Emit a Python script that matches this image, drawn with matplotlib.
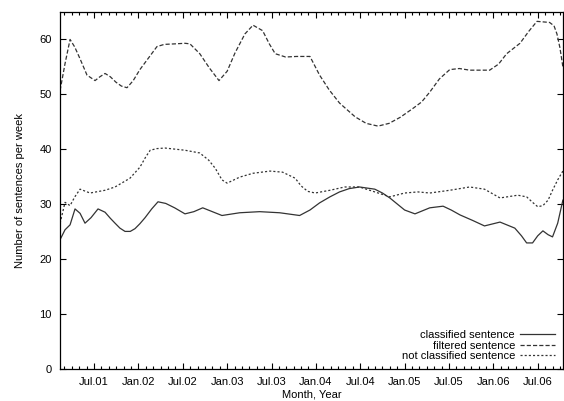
import matplotlib
matplotlib.use("Agg")
import matplotlib.pyplot as plt
from matplotlib.ticker import MultipleLocator

plt.rcParams['font.family'] = ['Liberation Sans', 'DejaVu Sans']
plt.rcParams['lines.scale_dashes'] = False

# x = months since Jan 2001
classified_x = [1.41, 2.08, 2.76, 3.43, 4.11, 4.78, 5.59, 6.54, 7.49, 8.2, 8.84, 9.5, 10.19,
                10.9, 11.54, 12.2, 12.9, 13.8, 14.65, 15.7, 16.9, 18.3, 19.5, 20.7, 22.0,
                23.3, 25.7, 28.4, 31.1, 33.8, 35.2, 36.5, 37.9, 39.2, 40.5, 41.9, 43.97,
                45.0, 46.0, 47.0, 48.0, 49.4, 51.4, 53.2, 54.3, 55.5, 57.2, 58.8, 60.9,
                62.9, 63.8, 64.5, 65.3, 66.0, 66.7, 67.4, 68.0, 68.7, 69.4]
classified_y = [23.5, 25.3, 26.2, 29.1, 28.3, 26.5, 27.5, 29.1, 28.5, 27.4, 26.5, 25.6, 25.0,
                25.0, 25.5, 26.4, 27.5, 29.1, 30.4, 30.1, 29.3, 28.2, 28.6, 29.3, 28.6,
                27.9, 28.4, 28.6, 28.4, 27.9, 28.9, 30.2, 31.3, 32.2, 32.8, 33.1, 32.7,
                32.0, 31.1, 30.0, 28.9, 28.2, 29.3, 29.6, 28.9, 28.0, 27.0, 26.0, 26.7,
                25.6, 24.2, 22.9, 22.9, 24.2, 25.1, 24.4, 24.0, 26.5, 30.7]

filtered_x = [1.41, 2.08, 2.76, 3.4, 4.1, 5.05, 6.14, 6.8, 7.49, 8.2, 8.97, 9.7, 10.46, 11.3,
              12.2, 13.3, 14.51, 15.5, 17.0, 18.3, 18.97, 20.3, 21.6, 22.9, 24.0, 25.05,
              26.4, 27.5, 28.8, 29.7, 30.5, 31.9, 33.4, 35.2, 36.5, 37.8, 39.2, 41.3, 42.8,
              44.4, 45.9, 47.4, 49.1, 50.3, 51.4, 52.7, 54.1, 55.4, 56.8, 59.5, 60.7,
              61.8, 63.6, 64.8, 65.9, 67.6, 68.2, 68.6, 69.0, 69.4]
filtered_y = [50.7, 55.6, 60.0, 58.6, 56.5, 53.5, 52.5, 53.2, 53.8, 53.2, 52.2, 51.5, 51.2,
              52.5, 54.5, 56.5, 58.7, 59.1, 59.2, 59.3, 59.2, 57.4, 54.8, 52.5, 54.2, 57.5,
              61.0, 62.6, 61.6, 59.2, 57.4, 56.8, 56.9, 56.9, 53.5, 50.8, 48.4, 45.9, 44.7,
              44.2, 44.7, 45.8, 47.4, 48.6, 50.4, 52.8, 54.5, 54.7, 54.4, 54.4, 55.5,
              57.4, 59.3, 61.5, 63.3, 63.1, 62.5, 61.0, 58.5, 55.0]

notclass_x = [1.41, 2.08, 2.76, 3.4, 4.11, 5.46, 7.49, 8.84, 10.86, 12.2, 13.0, 13.6, 14.5,
              15.6, 18.3, 20.3, 21.5, 22.4, 23.3, 24.0, 25.7, 27.5, 29.8, 31.5, 33.2,
              34.0, 34.9, 35.9, 37.9, 39.9, 41.9, 43.97, 46.0, 48.0, 49.8, 51.4, 54.1,
              56.8, 58.8, 60.9, 63.3, 64.5, 65.3, 66.0, 66.7, 67.4, 68.0, 68.7, 69.4]
notclass_y = [26.5, 30.3, 29.7, 31.3, 32.7, 32.0, 32.5, 33.1, 34.7, 36.7, 38.6, 39.8, 40.1,
              40.2, 39.8, 39.3, 38.0, 36.5, 34.4, 33.8, 34.9, 35.6, 36.0, 35.8, 34.7,
              33.3, 32.3, 32.0, 32.5, 33.1, 33.1, 32.2, 31.3, 32.0, 32.2, 32.0, 32.5,
              33.1, 32.7, 31.1, 31.6, 31.3, 30.3, 29.5, 29.7, 30.7, 32.5, 34.4, 36.0]

tick_pos = [6, 12, 18, 24, 30, 36, 42, 48, 54, 60, 66]
tick_labels = ['Jul.01', 'Jan.02', 'Jul.02', 'Jan.03', 'Jul.03', 'Jan.04',
               'Jul.04', 'Jan.05', 'Jul.05', 'Jan.06', 'Jul.06']

fig = plt.figure(figsize=(5.64, 4.01), dpi=100)
ax = fig.add_axes([0.1064, 0.081, 0.8916, 0.889])

col = '#333333'
ax.plot(classified_x, classified_y, color=col, lw=0.9, label='classified sentence')
ax.plot(filtered_x, filtered_y, color=col, lw=0.9, dashes=(3, 1.5), label='filtered sentence')
ax.plot(notclass_x, notclass_y, color=col, lw=0.9, dashes=(1.5, 1.5),
        label='not classified sentence')

ax.set_xlim(1.4, 69.4)
ax.set_ylim(0, 65)
ax.set_xticks(tick_pos)
ax.set_xticklabels(tick_labels)
ax.xaxis.set_minor_locator(MultipleLocator(1))
ax.yaxis.set_major_locator(MultipleLocator(10))
ax.tick_params(which='both', direction='in', top=True, right=True, labelsize=8,
               colors='black', width=0.8)
ax.tick_params(which='major', length=4, pad=6)
ax.tick_params(which='minor', length=2)
for s in ax.spines.values():
    s.set_linewidth(0.9)

ax.set_xlabel('Month, Year', fontsize=8, labelpad=2)
ax.set_ylabel('Number of sentences per week', fontsize=8, labelpad=10)

ax.legend(loc='lower right', frameon=False, fontsize=8, markerfirst=False,
          handlelength=3.2, handletextpad=0.4, labelspacing=0.02,
          borderaxespad=0.3)

fig.savefig('out.png', dpi=100)
